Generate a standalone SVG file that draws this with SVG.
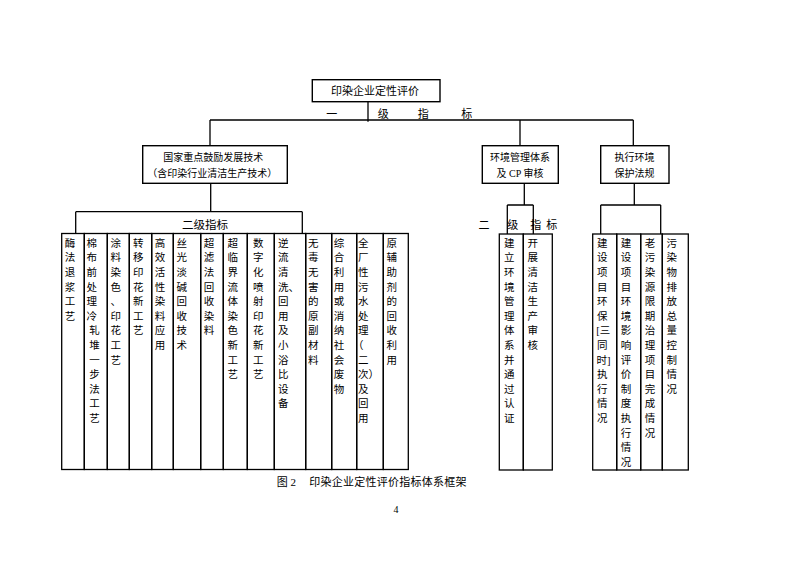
<svg xmlns="http://www.w3.org/2000/svg" width="793" height="561" viewBox="0 0 793 561">
<style>
.box{fill:#fff;stroke:#000;stroke-width:1.4}
.col{fill:none;stroke:#000;stroke-width:1.3}
.ln{fill:none;stroke:#000;stroke-width:1.3}
text{font-family:"Liberation Serif","Noto Sans CJK SC",serif;fill:#000}
.f11{font-size:11px}
.f10{font-size:10px}
.fc{font-size:10.5px}
.mid{text-anchor:middle}
</style>
<rect width="793" height="561" fill="#fff"/>

<g id="connectors">
  <path class="ln" d="M368,101.7 V121.7 M210,120 H633.3 M210,120 V145.7 M520,120 V145.7 M633.3,120 V145.7"/>
  <path class="ln" d="M210.7,183.3 V211.7 M75.7,211.7 H302.3 M75.7,211.7 V233.5 M302.3,211.7 V233.5"/>
  <path class="ln" d="M524.3,183.3 V205 M507.3,205 H533.3 M507.3,205 V234 M533.3,205 V234"/>
  <path class="ln" d="M634.3,183.3 V205 M600.7,205 H660.7 M600.7,205 V234 M660.7,205 V234"/>
  <g id="level1-label" class="f11 mid">
    <text x="331.7" y="117.5">一</text>
    <text x="383.3" y="117.5">级</text>
    <text x="423.3" y="117.5">指</text>
    <text x="466.7" y="117.5">标</text>
  </g>
  <text id="level2-label-a" class="mid" style="font-size:11.5px" x="205" y="228.7">二级指标</text>
  <g id="level2-label-b" class="f11 mid">
    <text x="484" y="228.5">二</text>
    <text x="512.7" y="228.5">级</text>
    <text x="535.7" y="228.5">指</text>
    <text x="551.7" y="228.5">标</text>
  </g>
</g>

<g id="root">
  <rect class="box" x="312.3" y="79.7" width="127.7" height="22"/>
  <text class="f11 mid" x="375" y="95.2">印染企业定性评价</text>
</g>
<g id="tech">
  <rect class="box" x="142.7" y="145.7" width="144.6" height="37.6"/>
  <text class="f10 mid" x="213.3" y="160.5">国家重点鼓励发展技术</text>
  <text class="f10 mid" x="212.3" y="177.1">（含印染行业清洁生产技术）</text>
</g>
<g id="ems">
  <rect class="box" x="482.3" y="145.7" width="76" height="37.6"/>
  <text class="f10 mid" x="520" y="160.5">环境管理体系</text>
  <text class="f10 mid" x="520" y="177.1">及 CP 审核</text>
</g>
<g id="law">
  <rect class="box" x="600.7" y="145.7" width="68.3" height="37.6"/>
  <text class="f10 mid" x="634.5" y="160.5">执行环境</text>
  <text class="f10 mid" x="634.5" y="177.1">保护法规</text>
</g>

<g id="c1"><rect class="col" x="61.7" y="233.5" width="22.6" height="236"/>
<text class="fc"><tspan x="64.8" y="246.7">酶</tspan><tspan x="64.8" dy="14.6">法</tspan><tspan x="64.8" dy="14.6">退</tspan><tspan x="64.8" dy="14.6">浆</tspan><tspan x="64.8" dy="14.6">工</tspan><tspan x="64.8" dy="14.6">艺</tspan></text></g>
<g id="c2"><rect class="col" x="84.3" y="233.5" width="23" height="236"/>
<text class="fc"><tspan x="86.5" y="246.7">棉</tspan><tspan x="86.5" dy="14.6">布</tspan><tspan x="86.5" dy="14.6">前</tspan><tspan x="86.5" dy="14.6">处</tspan><tspan x="86.5" dy="14.6">理</tspan><tspan x="86.5" dy="14.6">冷</tspan><tspan x="89.2" dy="14.6">轧</tspan><tspan x="89.2" dy="14.6">堆</tspan><tspan x="89.2" dy="14.6">一</tspan><tspan x="89.2" dy="14.6">步</tspan><tspan x="89.2" dy="14.6">法</tspan><tspan x="89.2" dy="14.6">工</tspan><tspan x="89.2" dy="14.6">艺</tspan></text></g>
<g id="c3"><rect class="col" x="107.3" y="233.5" width="22" height="236"/>
<text class="fc"><tspan x="110.5" y="246.7">涂</tspan><tspan x="110.5" dy="14.6">料</tspan><tspan x="110.5" dy="14.6">染</tspan><tspan x="110.5" dy="14.6">色</tspan><tspan x="110.5" dy="14.6">、</tspan><tspan x="110.5" dy="14.6">印</tspan><tspan x="110.5" dy="14.6">花</tspan><tspan x="110.5" dy="14.6">工</tspan><tspan x="110.5" dy="14.6">艺</tspan></text></g>
<g id="c4"><rect class="col" x="129.3" y="233.5" width="22.4" height="236"/>
<text class="fc"><tspan x="133" y="246.7">转</tspan><tspan x="133" dy="14.6">移</tspan><tspan x="133" dy="14.6">印</tspan><tspan x="133" dy="14.6">花</tspan><tspan x="133" dy="14.6">新</tspan><tspan x="133" dy="14.6">工</tspan><tspan x="133" dy="14.6">艺</tspan></text></g>
<g id="c5"><rect class="col" x="151.7" y="233.5" width="21.6" height="236"/>
<text class="fc"><tspan x="154.8" y="246.7">高</tspan><tspan x="154.8" dy="14.6">效</tspan><tspan x="154.8" dy="14.6">活</tspan><tspan x="154.8" dy="14.6">性</tspan><tspan x="154.8" dy="14.6">染</tspan><tspan x="154.8" dy="14.6">料</tspan><tspan x="154.8" dy="14.6">应</tspan><tspan x="154.8" dy="14.6">用</tspan></text></g>
<g id="c6"><rect class="col" x="173.3" y="233.5" width="27.4" height="236"/>
<text class="fc"><tspan x="176.5" y="246.7">丝</tspan><tspan x="176.5" dy="14.6">光</tspan><tspan x="176.5" dy="14.6">淡</tspan><tspan x="176.5" dy="14.6">碱</tspan><tspan x="176.5" dy="14.6">回</tspan><tspan x="176.5" dy="14.6">收</tspan><tspan x="176.5" dy="14.6">技</tspan><tspan x="176.5" dy="14.6">术</tspan></text></g>
<g id="c7"><rect class="col" x="200.7" y="233.5" width="22.6" height="236"/>
<text class="fc"><tspan x="203.8" y="246.7">超</tspan><tspan x="203.8" dy="14.6">滤</tspan><tspan x="203.8" dy="14.6">法</tspan><tspan x="203.8" dy="14.6">回</tspan><tspan x="203.8" dy="14.6">收</tspan><tspan x="203.8" dy="14.6">染</tspan><tspan x="203.8" dy="14.6">料</tspan></text></g>
<g id="c8"><rect class="col" x="223.3" y="233.5" width="24" height="236"/>
<text class="fc"><tspan x="227.5" y="246.7">超</tspan><tspan x="227.5" dy="14.6">临</tspan><tspan x="227.5" dy="14.6">界</tspan><tspan x="227.5" dy="14.6">流</tspan><tspan x="227.5" dy="14.6">体</tspan><tspan x="227.5" dy="14.6">染</tspan><tspan x="227.5" dy="14.6">色</tspan><tspan x="227.5" dy="14.6">新</tspan><tspan x="227.5" dy="14.6">工</tspan><tspan x="227.5" dy="14.6">艺</tspan></text></g>
<g id="c9"><rect class="col" x="247.3" y="233.5" width="27" height="236"/>
<text class="fc"><tspan x="253" y="246.7">数</tspan><tspan x="253" dy="14.6">字</tspan><tspan x="253" dy="14.6">化</tspan><tspan x="253" dy="14.6">喷</tspan><tspan x="253" dy="14.6">射</tspan><tspan x="253" dy="14.6">印</tspan><tspan x="253" dy="14.6">花</tspan><tspan x="253" dy="14.6">新</tspan><tspan x="253" dy="14.6">工</tspan><tspan x="253" dy="14.6">艺</tspan></text></g>
<g id="c10"><rect class="col" x="274.3" y="233.5" width="31.4" height="236"/>
<text class="fc"><tspan x="278" y="246.7">逆</tspan><tspan x="278" dy="14.6">流</tspan><tspan x="278" dy="14.6">清</tspan><tspan x="278" dy="14.6">洗、</tspan><tspan x="278" dy="14.6">回</tspan><tspan x="278" dy="14.6">用</tspan><tspan x="278" dy="14.6">及</tspan><tspan x="278" dy="14.6">小</tspan><tspan x="278" dy="14.6">浴</tspan><tspan x="278" dy="14.6">比</tspan><tspan x="278" dy="14.6">设</tspan><tspan x="278" dy="14.6">备</tspan></text></g>
<g id="c11"><rect class="col" x="305.7" y="233.5" width="26" height="236"/>
<text class="fc"><tspan x="308" y="246.7">无</tspan><tspan x="308" dy="14.6">毒</tspan><tspan x="308" dy="14.6">无</tspan><tspan x="308" dy="14.6">害</tspan><tspan x="308" dy="14.6">的</tspan><tspan x="308" dy="14.6">原</tspan><tspan x="308" dy="14.6">副</tspan><tspan x="308" dy="14.6">材</tspan><tspan x="308" dy="14.6">料</tspan></text></g>
<g id="c12"><rect class="col" x="331.7" y="233.5" width="25" height="236"/>
<text class="fc"><tspan x="333.8" y="246.7">综</tspan><tspan x="333.8" dy="14.6">合</tspan><tspan x="333.8" dy="14.6">利</tspan><tspan x="333.8" dy="14.6">用</tspan><tspan x="333.8" dy="14.6">或</tspan><tspan x="333.8" dy="14.6">消</tspan><tspan x="333.8" dy="14.6">纳</tspan><tspan x="333.8" dy="14.6">社</tspan><tspan x="333.8" dy="14.6">会</tspan><tspan x="333.8" dy="14.6">废</tspan><tspan x="333.8" dy="14.6">物</tspan></text></g>
<g id="c13"><rect class="col" x="356.7" y="233.5" width="26.6" height="236"/>
<text class="fc"><tspan x="358" y="246.7">全</tspan><tspan x="358" dy="14.6">厂</tspan><tspan x="358" dy="14.6">性</tspan><tspan x="358" dy="14.6">污</tspan><tspan x="358" dy="14.6">水</tspan><tspan x="358" dy="14.6">处</tspan><tspan x="358" dy="14.6">理</tspan><tspan x="353" dy="14.6">（</tspan><tspan x="358" dy="14.6">二</tspan><tspan x="358" dy="14.6">次）</tspan><tspan x="358" dy="14.6">及</tspan><tspan x="358" dy="14.6">回</tspan><tspan x="358" dy="14.6">用</tspan></text></g>
<g id="c14"><rect class="col" x="383.3" y="233.5" width="25" height="236"/>
<text class="fc"><tspan x="386.5" y="246.7">原</tspan><tspan x="386.5" dy="14.6">辅</tspan><tspan x="386.5" dy="14.6">助</tspan><tspan x="386.5" dy="14.6">剂</tspan><tspan x="386.5" dy="14.6">的</tspan><tspan x="386.5" dy="14.6">回</tspan><tspan x="386.5" dy="14.6">收</tspan><tspan x="386.5" dy="14.6">利</tspan><tspan x="386.5" dy="14.6">用</tspan></text></g>

<g id="c15"><rect class="col" x="499.3" y="234" width="24" height="236"/>
<text class="fc"><tspan x="504" y="246.7">建</tspan><tspan x="504" dy="14.6">立</tspan><tspan x="504" dy="14.6">环</tspan><tspan x="504" dy="14.6">境</tspan><tspan x="504" dy="14.6">管</tspan><tspan x="504" dy="14.6">理</tspan><tspan x="504" dy="14.6">体</tspan><tspan x="504" dy="14.6">系</tspan><tspan x="504" dy="14.6">并</tspan><tspan x="504" dy="14.6">通</tspan><tspan x="504" dy="14.6">过</tspan><tspan x="504" dy="14.6">认</tspan><tspan x="504" dy="14.6">证</tspan></text></g>
<g id="c16"><rect class="col" x="523.3" y="234" width="29" height="236"/>
<text class="fc"><tspan x="527.4" y="246.7">开</tspan><tspan x="527.4" dy="14.6">展</tspan><tspan x="527.4" dy="14.6">清</tspan><tspan x="527.4" dy="14.6">洁</tspan><tspan x="527.4" dy="14.6">生</tspan><tspan x="527.4" dy="14.6">产</tspan><tspan x="527.4" dy="14.6">审</tspan><tspan x="527.4" dy="14.6">核</tspan></text></g>

<g id="c17"><rect class="col" x="592.7" y="234" width="24" height="236"/>
<text class="fc"><tspan x="597" y="246.7">建</tspan><tspan x="597" dy="14.6">设</tspan><tspan x="597" dy="14.6">项</tspan><tspan x="597" dy="14.6">目</tspan><tspan x="597" dy="14.6">环</tspan><tspan x="597" dy="14.6">保</tspan><tspan x="596.3" dy="14.6">[三</tspan><tspan x="597" dy="14.6">同</tspan><tspan x="596.5" dy="14.6">时]</tspan><tspan x="597" dy="14.6">执</tspan><tspan x="597" dy="14.6">行</tspan><tspan x="597" dy="14.6">情</tspan><tspan x="597" dy="14.6">况</tspan></text></g>
<g id="c18"><rect class="col" x="616.7" y="234" width="24" height="236"/>
<text class="fc"><tspan x="620.8" y="246.7">建</tspan><tspan x="620.8" dy="14.6">设</tspan><tspan x="620.8" dy="14.6">项</tspan><tspan x="620.8" dy="14.6">目</tspan><tspan x="620.8" dy="14.6">环</tspan><tspan x="620.8" dy="14.6">境</tspan><tspan x="620.8" dy="14.6">影</tspan><tspan x="620.8" dy="14.6">响</tspan><tspan x="620.8" dy="14.6">评</tspan><tspan x="620.8" dy="14.6">价</tspan><tspan x="620.8" dy="14.6">制</tspan><tspan x="620.8" dy="14.6">度</tspan><tspan x="620.8" dy="14.6">执</tspan><tspan x="620.8" dy="14.6">行</tspan><tspan x="620.8" dy="14.6">情</tspan><tspan x="620.8" dy="14.6">况</tspan></text></g>
<g id="c19"><rect class="col" x="640.7" y="234" width="21.6" height="236"/>
<text class="fc"><tspan x="644.8" y="246.7">老</tspan><tspan x="644.8" dy="14.6">污</tspan><tspan x="644.8" dy="14.6">染</tspan><tspan x="644.8" dy="14.6">源</tspan><tspan x="644.8" dy="14.6">限</tspan><tspan x="644.8" dy="14.6">期</tspan><tspan x="644.8" dy="14.6">治</tspan><tspan x="644.8" dy="14.6">理</tspan><tspan x="644.8" dy="14.6">项</tspan><tspan x="644.8" dy="14.6">目</tspan><tspan x="644.8" dy="14.6">完</tspan><tspan x="644.8" dy="14.6">成</tspan><tspan x="644.8" dy="14.6">情</tspan><tspan x="644.8" dy="14.6">况</tspan></text></g>
<g id="c20"><rect class="col" x="662.3" y="234" width="26" height="236"/>
<text class="fc"><tspan x="666.5" y="246.7">污</tspan><tspan x="666.5" dy="14.6">染</tspan><tspan x="666.5" dy="14.6">物</tspan><tspan x="666.5" dy="14.6">排</tspan><tspan x="666.5" dy="14.6">放</tspan><tspan x="666.5" dy="14.6">总</tspan><tspan x="666.5" dy="14.6">量</tspan><tspan x="666.5" dy="14.6">控</tspan><tspan x="666.5" dy="14.6">制</tspan><tspan x="666.5" dy="14.6">情</tspan><tspan x="666.5" dy="14.6">况</tspan></text></g>

<g id="caption">
  <text class="f11" x="276.7" y="485.9">图 2</text>
  <text class="f11" x="309.3" y="485.9" style="letter-spacing:0.24px">印染企业定性评价指标体系框架</text>
  <text class="f10 mid" x="396" y="512.5">4</text>
</g>
</svg>
